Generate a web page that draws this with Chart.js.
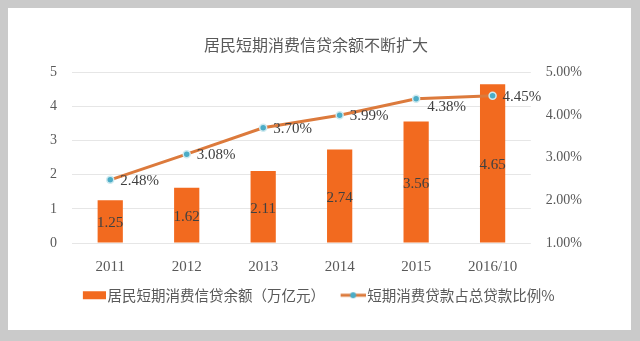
<!DOCTYPE html>
<html>
<head>
<meta charset="utf-8">
<script src="https://cdn.jsdelivr.net/npm/chart.js@4"></script>
<style>
  html, body { margin: 0; padding: 0; background: #cacaca; width: 640px; height: 341px; overflow: hidden; }
  #panel { position: absolute; left: 8px; top: 8px; width: 623px; height: 322px; background: #ffffff; }
  #wrap { position: absolute; left: 0; top: 0; width: 640px; height: 341px; }
</style>
</head>
<body>
<div id="panel"></div>
<div id="wrap"><canvas id="loanChart"></canvas></div>
<script>
// categories and values
const years = ['2011', '2012', '2013', '2014', '2015', '2016/10'];
const creditBalance = [1.25, 1.62, 2.11, 2.74, 3.56, 4.65];   // 万亿元
const loanShare = [2.48, 3.08, 3.70, 3.99, 4.38, 4.45];       // %

const barColor = '#f26a1f';
const lineColor = '#dc7a3c';
const pointColor = '#4bacc6';
const textColor = '#595959';
const serif = "'Liberation Serif', 'Times New Roman', serif";
const cjk = "'Noto Sans CJK SC', sans-serif";

// legend swatches, drawn the way Excel draws them
// (left part left blank so the swatch sits right next to its text)
function makeSwatch(kind) {
    const c = document.createElement('canvas');
    c.width = 34;
    c.height = 10;
    const g = c.getContext('2d');
    if (kind === 'bar') {
        g.fillStyle = barColor;
        g.fillRect(11, 1, 23, 8);
    } else {
        g.strokeStyle = lineColor;
        g.lineWidth = 3;
        g.beginPath();
        g.moveTo(9, 5);
        g.lineTo(34, 5);
        g.stroke();
        g.fillStyle = pointColor;
        g.beginPath();
        g.arc(21.5, 5, 3, 0, Math.PI * 2);
        g.fill();
    }
    return c;
}
const swatches = [makeSwatch('bar'), makeSwatch('line')];

// value labels on bars and points
const valueLabels = {
    id: 'valueLabels',
    afterDatasetsDraw(chart) {
        const ctx = chart.ctx;
        ctx.save();
        ctx.font = '15px ' + serif;
        ctx.fillStyle = '#404040';
        ctx.textBaseline = 'middle';

        chart.getDatasetMeta(1).data.forEach((bar, i) => {
            ctx.textAlign = 'center';
            ctx.fillText(creditBalance[i].toFixed(2), bar.x, (bar.y + bar.base) / 2 + 2);
        });

        chart.getDatasetMeta(0).data.forEach((pt, i) => {
            ctx.textAlign = 'left';
            if (i === 4) {
                ctx.fillText(loanShare[i].toFixed(2) + '%', pt.x + 11, pt.y + 8);
            } else {
                ctx.fillText(loanShare[i].toFixed(2) + '%', pt.x + 10, pt.y + 1);
            }
        });
        ctx.restore();
    }
};

new Chart(document.getElementById('loanChart'), {
    data: {
        labels: years,
        datasets: [
            {
                type: 'line',
                label: '短期消费贷款占总贷款比例%',
                data: loanShare,
                yAxisID: 'y1',
                borderColor: lineColor,
                borderWidth: 3,
                pointBackgroundColor: pointColor,
                pointBorderColor: '#cfeaf0',
                pointBorderWidth: 1.5,
                pointRadius: 3.5,
                tension: 0,
                order: 0
            },
            {
                type: 'bar',
                label: '居民短期消费信贷余额（万亿元）',
                data: creditBalance,
                yAxisID: 'y',
                backgroundColor: barColor,
                categoryPercentage: 1,
                barPercentage: 0.33,
                order: 1
            }
        ]
    },
    options: {
        responsive: true,
        maintainAspectRatio: false,
        animation: false,
        layout: { padding: { top: 25, left: 35, right: 43, bottom: 28.5 } },
        plugins: {
            title: {
                display: true,
                text: '居民短期消费信贷余额不断扩大',
                color: textColor,
                font: { family: cjk, size: 16, weight: 'normal' },
                padding: { top: 10, bottom: 18 }
            },
            legend: {
                position: 'bottom',
                reverse: true,
                labels: {
                    color: textColor,
                    font: { family: cjk, size: 14.5 },
                    usePointStyle: true,
                    pointStyleWidth: 23,
                    boxHeight: 10,
                    padding: 12,
                    generateLabels(chart) {
                        return chart.data.datasets.map((ds, i) => ({
                            text: ds.label,
                            datasetIndex: i,
                            pointStyle: swatches[ds.type === 'bar' ? 0 : 1],
                            fillStyle: 'transparent',
                            strokeStyle: 'transparent',
                            lineWidth: 0,
                            fontColor: textColor,
                            hidden: false
                        }));
                    }
                }
            },
            tooltip: { enabled: false }
        },
        scales: {
            x: {
                grid: { display: false, drawTicks: false },
                border: { display: false },
                ticks: { color: textColor, font: { family: serif, size: 15 }, padding: 15 },
                afterFit(scale) { scale.height = 33; }
            },
            y: {
                position: 'left',
                min: 0,
                max: 5,
                grid: { color: '#e6e6e6', drawTicks: false },
                border: { display: false },
                ticks: { stepSize: 1, color: textColor, font: { family: serif, size: 14 }, padding: 15 }
            },
            y1: {
                position: 'right',
                min: 1,
                max: 5,
                grid: { display: false, drawTicks: false },
                border: { display: false },
                ticks: {
                    stepSize: 1,
                    color: textColor,
                    font: { family: serif, size: 14 },
                    padding: 15,
                    callback: v => v.toFixed(2) + '%'
                }
            }
        }
    },
    plugins: [valueLabels]
});
</script>
</body>
</html>
